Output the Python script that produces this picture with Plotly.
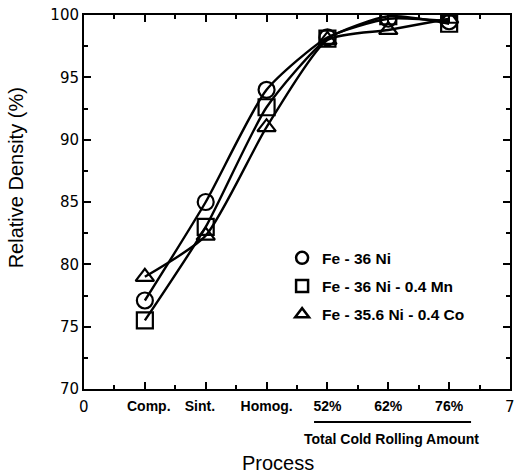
import plotly.graph_objects as go

x_pos = [1, 2, 3, 4, 5, 6]
tick_vals = [0, 1, 2, 3, 4, 5, 6, 7]
tick_text = ["", "\u00a0\u00a0Comp.", "Sint.\u00a0\u00a0\u00a0", "Homog.", "52%", "62%", "76%", ""]
end_labels = [(0, "0"), (7, "7")]

fe36ni = [77.1, 85.0, 94.0, 98.2, 99.7, 99.5]
fe36ni_mn = [75.5, 83.0, 92.6, 98.1, 99.9, 99.3]
fe356ni_co = [79.0, 82.3, 91.0, 98.0, 98.8, 99.7]

names = ["Fe - 36 Ni", "Fe - 36 Ni - 0.4 Mn", "Fe - 35.6 Ni - 0.4 Co"]
symbols = ["circle-open", "square-open", "triangle-up-open"]
series = [fe36ni, fe36ni_mn, fe356ni_co]

fig = go.Figure()
for nm, sym, ys in zip(names, symbols, series):
    fig.add_trace(go.Scatter(
        x=x_pos, y=ys, name=nm, mode="lines+markers", showlegend=False,
        line=dict(color="black", width=2.4, shape="spline", smoothing=0.6),
        marker=dict(symbol=sym, size=16, color="black", line=dict(width=2.2, color="black")),
    ))
for i, (nm, sym) in enumerate(zip(names, symbols)):
    fig.add_trace(go.Scatter(
        x=[None], y=[None], name=nm, mode="markers", legendgroup=f"g{i}",
        marker=dict(symbol=sym, size=12, color="black", line=dict(width=2.5, color="black")),
    ))

axis_common = dict(
    showline=True, linecolor="black", linewidth=2, mirror="allticks",
    ticks="inside", ticklen=7, tickwidth=2, tickcolor="black",
    showgrid=False, zeroline=False,
)

fig.update_xaxes(
    range=[0, 7], tickvals=tick_vals, ticktext=tick_text, ticklabelstandoff=3,
    tickfont=dict(family="Liberation Sans", size=14, color="black", weight="bold"),
    minor=dict(ticks="inside", ticklen=4, tickwidth=1.5, tickcolor="black", dtick=0.5, tick0=0),
    **axis_common,
)
fig.update_yaxes(
    range=[70, 100], dtick=5, tick0=70,
    tickfont=dict(family="DejaVu Sans", size=15, color="black"),
    minor=dict(ticks="inside", ticklen=4, tickwidth=1.5, tickcolor="black", dtick=2.5, tick0=70),
    **axis_common,
)

for xv, txt in end_labels:
    fig.add_annotation(text=txt, xref="x", yref="paper", x=xv, y=-0.048,
                       xanchor="center", yanchor="middle", showarrow=False,
                       font=dict(family="DejaVu Sans", size=15, color="black"))

fig.add_annotation(text="Relative Density (%)", xref="paper", yref="paper", x=-0.159, y=0.564,
                   xanchor="center", yanchor="middle", showarrow=False, textangle=-90,
                   font=dict(family="Liberation Sans", size=20, color="black"))
fig.add_annotation(text="Process", xref="paper", yref="paper", x=0.456, y=-0.197,
                   xanchor="center", yanchor="middle", showarrow=False,
                   font=dict(family="Liberation Sans", size=20, color="black"))
fig.add_annotation(text="<b>Total Cold Rolling Amount</b>", xref="x", yref="paper", x=5.05, y=-0.135,
                   xanchor="center", yanchor="middle", showarrow=False,
                   font=dict(family="Liberation Sans", size=14, color="black"))
fig.add_shape(type="line", xref="x", yref="paper", x0=3.78, x1=6.36, y0=-0.088, y1=-0.088,
              line=dict(color="black", width=2))

fig.update_layout(
    width=518, height=476,
    margin=dict(l=84, r=6, t=13, b=87),
    plot_bgcolor="white", paper_bgcolor="white",
    showlegend=True,
    legend=dict(x=0.465, y=0.395, xanchor="left", yanchor="top",
                bgcolor="rgba(0,0,0,0)", borderwidth=0,
                font=dict(family="Liberation Sans", size=15.5, color="black", weight="bold"),
                itemsizing="trace", tracegroupgap=5),
)

fig.write_html("out.html")
